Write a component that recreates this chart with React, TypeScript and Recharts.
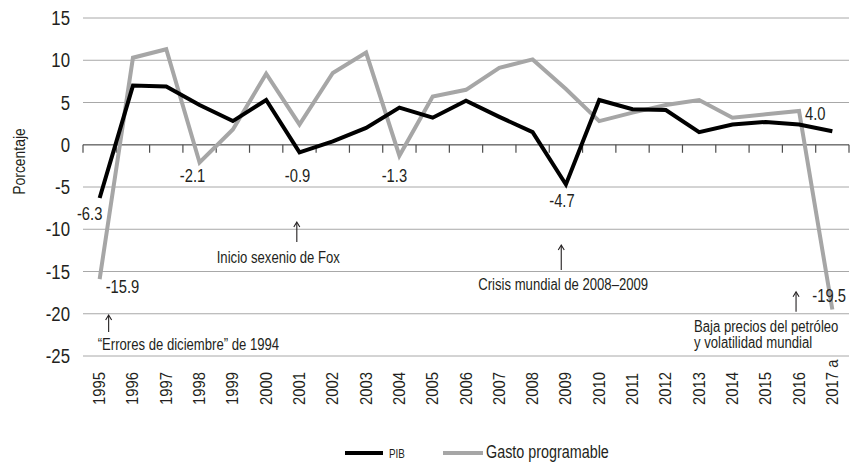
import React from 'react';
import { LineChart, Line, XAxis, YAxis, CartesianGrid, ReferenceLine, ReferenceDot, Legend } from 'recharts';

const years = ['1995','1996','1997','1998','1999','2000','2001','2002','2003','2004','2005','2006','2007','2008','2009','2010','2011','2012','2013','2014','2015','2016','2017 a'];
const pib = [-6.3, 7.0, 6.9, 4.7, 2.8, 5.3, -0.9, 0.4, 2.0, 4.4, 3.2, 5.2, 3.3, 1.5, -4.7, 5.3, 4.2, 4.1, 1.5, 2.4, 2.7, 2.4, 1.6];
const gasto = [-15.9, 10.3, 11.3, -2.1, 1.8, 8.4, 2.4, 8.5, 10.9, -1.3, 5.7, 6.5, 9.1, 10.1, 6.6, 2.8, 3.8, 4.7, 5.3, 3.2, 3.6, 4.0, -19.5];
const yTicks = [-25, -20, -15, -10, -5, 0, 5, 10, 15];
const seriesNames = ['PIB', 'Gasto programable'];
const pibLabelYears = ['1995', '2001', '2009'];
const gastoLabelYears = ['1995', '1998', '2004', '2016', '2017 a'];
const notes = [
  { year: '1995', lines: ['\u201cErrores de diciembre\u201d de 1994'] },
  { year: '2001', lines: ['Inicio sexenio de Fox'] },
  { year: '2009', lines: ['Crisis mundial de 2008\u20132009'] },
  { year: '2016', lines: ['Baja precios del petr\u00f3leo', 'y volatilidad mundial'] },
];

const data = years.map((y, i) => ({ idx: i, year: y, pib: pib[i], gasto: gasto[i] }));
const boundaries = Array.from({ length: years.length + 1 }, (_, i) => i - 0.5);

const FONT = '"Liberation Sans", Arial, sans-serif';
const TXT = '#231f20';
const NARROW = 0.82;

// Narrow text: Liberation Sans squeezed horizontally (Arial Narrow metrics)
const NText = ({ x, y, anchor = 'start', size, rotate = 0, sx = NARROW, children }: any) => (
  <g transform={`translate(${x},${y})${rotate ? ` rotate(${rotate})` : ''} scale(${sx},1)`}>
    <text x={0} y={0} textAnchor={anchor} fontFamily={FONT} fontSize={size} fill={TXT}>
      {children}
    </text>
  </g>
);

const pibLabelStyle: Record<string, { dx: number; dy: number; anchor: string }> = {
  '1995': { dx: -10, dy: 22, anchor: 'middle' },
  '2001': { dx: -2, dy: 29.5, anchor: 'middle' },
  '2009': { dx: -4, dy: 22.5, anchor: 'middle' },
};
const gastoLabelStyle: Record<string, { dx: number; dy: number; anchor: string }> = {
  '1995': { dx: 6, dy: 14, anchor: 'start' },
  '1998': { dx: -7, dy: 19.5, anchor: 'middle' },
  '2004': { dx: -5, dy: 26, anchor: 'middle' },
  '2016': { dx: 6, dy: 9, anchor: 'start' },
  '2017 a': { dx: -20, dy: -7.5, anchor: 'start' },
};

const noteGeom: Record<string, { dxIdx: number; tip: number; len: number; tx: number; ty: number; anchor: string }> = {
  '1995': { dxIdx: 0.27, tip: -20.15, len: 17, tx: -11, ty: 35, anchor: 'start' },
  '2001': { dxIdx: -0.08, tip: -9.15, len: 20, tx: -18.5, ty: 41, anchor: 'middle' },
  '2009': { dxIdx: -0.14, tip: -11.86, len: 25, tx: -83, ty: 45, anchor: 'start' },
  '2016': { dxIdx: -0.09, tip: -17.4, len: 20, tx: -102, ty: 40, anchor: 'start' },
};

const makeLabel = (labelYears: string[], styles: Record<string, { dx: number; dy: number; anchor: string }>) =>
  (props: any) => {
    const { x, y, index, value } = props;
    const yr = years[index];
    if (!labelYears.includes(yr)) return <g key={`l-${index}`} />;
    const s = styles[yr];
    return (
      <g key={`l-${index}`}>
        <NText x={x + s.dx} y={y + s.dy} anchor={s.anchor} size={18}>
          {Number(value).toFixed(1)}
        </NText>
      </g>
    );
  };

const XTick = (props: any) => {
  const { x, y, payload } = props;
  const label = years[payload.value] ?? '';
  return (
    <NText x={x + 5.5} y={y + 49} rotate={-90} anchor="start" size={16} sx={0.93}>
      {label}
    </NText>
  );
};

const YTick = (props: any) => {
  const { x, y, payload } = props;
  return (
    <NText x={x} y={y + 7} anchor="end" size={20.5}>
      {payload.value}
    </NText>
  );
};

const LegendContent = () => (
  <svg width={853} height={30}>
    <line x1={345} y1={15} x2={383} y2={15} stroke="#000" strokeWidth={4} />
    <NText x={389} y={19.5} size={12}>{seriesNames[0]}</NText>
    <line x1={443} y1={15} x2={483} y2={15} stroke="#a6a6a6" strokeWidth={4} />
    <NText x={486} y={19.5} size={17.5}>{seriesNames[1]}</NText>
  </svg>
);

const YLabel = () => (
  <NText x={25} y={161.5} rotate={-90} anchor="middle" size={17}>
    Porcentaje
  </NText>
);

export default function App() {
  return (
    <div style={{ position: 'absolute', left: 0, top: 0, width: 853, height: 466, background: '#fff' }}>
      <LineChart width={853} height={466} data={data} margin={{ top: 18, right: 4, left: 0, bottom: 60 }}>
        <CartesianGrid vertical={false} stroke="#a8a8a8" strokeWidth={1} />
        <XAxis
          type="number"
          dataKey="idx"
          domain={[-0.5, years.length - 0.5]}
          ticks={data.map((d) => d.idx)}
          interval={0}
          axisLine={false}
          tickLine={false}
          tickSize={0}
          tickMargin={0}
          height={50}
          tick={<XTick />}
        />
        <YAxis
          type="number"
          domain={[-25, 15]}
          ticks={yTicks}
          interval={0}
          axisLine={false}
          tickLine={false}
          tickSize={0}
          tickMargin={13}
          width={83}
          tick={<YTick />}
          label={{ content: () => <YLabel /> }}
        />
        <ReferenceLine y={0} stroke="#7a7a7a" strokeWidth={1.5} ifOverflow="visible" />
        {boundaries.map((b) => (
          <ReferenceLine
            key={`t-${b}`}
            segment={[{ x: b, y: 0 }, { x: b, y: -0.95 }]}
            stroke="#4d4d4d"
            strokeWidth={1.2}
            ifOverflow="visible"
          />
        ))}
        <Line
          type="linear"
          dataKey="gasto"
          name={seriesNames[1]}
          stroke="#a6a6a6"
          strokeWidth={4}
          dot={false}
          activeDot={false}
          isAnimationActive={false}
          label={makeLabel(gastoLabelYears, gastoLabelStyle)}
        />
        <Line
          type="linear"
          dataKey="pib"
          name={seriesNames[0]}
          stroke="#000"
          strokeWidth={4}
          dot={false}
          activeDot={false}
          isAnimationActive={false}
          label={makeLabel(pibLabelYears, pibLabelStyle)}
        />
        {notes.map((n) => {
          const g = noteGeom[n.year];
          const i = years.indexOf(n.year);
          return (
            <ReferenceDot
              key={`n-${n.year}`}
              x={i + g.dxIdx}
              y={g.tip}
              r={0}
              ifOverflow="visible"
              shape={(p: any) => {
                const cx = p.cx;
                const cy = p.cy;
                return (
                  <g>
                    <line x1={cx} y1={cy + 1} x2={cx} y2={cy + g.len} stroke={TXT} strokeWidth={1.1} />
                    <path d={`M${cx - 3},${cy + 5} L${cx},${cy} L${cx + 3},${cy + 5}`} fill="none" stroke={TXT} strokeWidth={1.1} />
                    {n.lines.map((ln, k) => (
                      <NText key={k} x={cx + g.tx} y={cy + g.ty + k * 16} anchor={g.anchor} size={16}>
                        {ln}
                      </NText>
                    ))}
                  </g>
                );
              }}
            />
          );
        })}
        <Legend
          layout="horizontal"
          verticalAlign="middle"
          align="center"
          content={() => <LegendContent />}
          wrapperStyle={{ position: 'absolute', left: 0, top: 438, width: 853, height: 30 }}
        />
      </LineChart>
    </div>
  );
}
